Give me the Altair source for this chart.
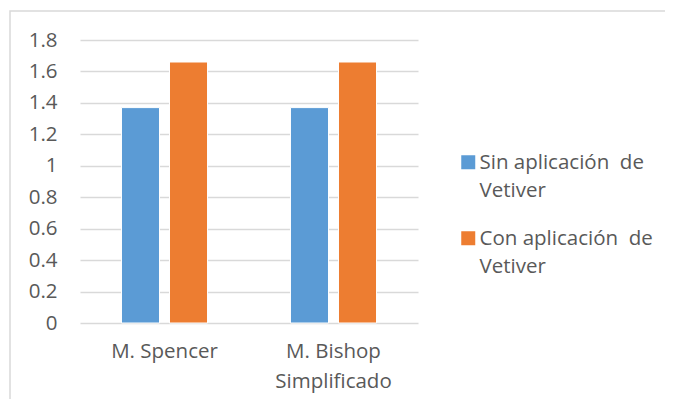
import altair as alt
import pandas as pd

categories = ["M. Spencer", "M. Bishop Simplificado"]
series = ["Sin aplicación\u00a0 de Vetiver", "Con aplicación\u00a0 de Vetiver"]
values_sin = [1.37, 1.37]
values_con = [1.66, 1.66]
y_ticks = [0, 0.2, 0.4, 0.6, 0.8, 1, 1.2, 1.4, 1.6, 1.8]
colors = ["#5b9bd5", "#ed7d31"]

rows = []
for i, c in enumerate(categories):
    rows.append({"cat": c, "serie": series[0], "value": values_sin[i]})
    rows.append({"cat": c, "serie": series[1], "value": values_con[i]})
df = pd.DataFrame(rows)

FONT = "Open Sans"
TXT = "#595959"
FS = 20.5

frame = alt.Chart(pd.DataFrame({"a": [0]})).mark_rect(
    fillOpacity=0, stroke="#d9d9d9", strokeWidth=1.5, clip=False
).encode(
    x=alt.value(-70), x2=alt.value(700), y=alt.value(-29), y2=alt.value(440)
)

bars = alt.Chart(df).mark_bar(stroke="white", strokeWidth=1).encode(
    x=alt.X(
        "cat:N", sort=categories,
        scale=alt.Scale(paddingInner=0, paddingOuter=0),
        axis=alt.Axis(
            title=None, labelAngle=0, domain=False, ticks=False,
            labelFont=FONT, labelFontSize=FS, labelColor=TXT,
            labelPadding=18, labelLineHeight=30, labelBaseline="top",
            labelExpr="datum.label == 'M. Bishop Simplificado' ? ['M. Bishop', 'Simplificado'] : datum.label",
        ),
    ),
    xOffset=alt.XOffset("serie:N", sort=series,
                        scale=alt.Scale(paddingInner=0.208, paddingOuter=0.864)),
    y=alt.Y(
        "value:Q", scale=alt.Scale(domain=[0, 1.8], nice=False),
        axis=alt.Axis(
            title=None, values=y_ticks, domain=False, ticks=False, format=".1~f",
            labelFont=FONT, labelFontSize=FS, labelColor=TXT, labelPadding=23,
            gridColor="#d9d9d9", gridWidth=1.5,
        ),
    ),
    color=alt.Color(
        "serie:N", sort=series,
        scale=alt.Scale(domain=series, range=colors),
        legend=alt.Legend(
            title=None, orient="none", legendX=378, legendY=119,
            symbolType="M-1,-2H1V0H-1Z", symbolSize=196, symbolStrokeWidth=0,
            labelFont=FONT, labelFontSize=FS, labelColor=TXT,
            labelBaseline="alphabetic", labelLimit=300,
            labelOffset=1, rowPadding=27, padding=0,
            labelExpr="[substring(datum.label, 0, lastindexof(datum.label, ' ')), substring(datum.label, lastindexof(datum.label, ' ') + 1)]",
        ),
    ),
)

chart = alt.layer(frame, bars).properties(
    width=338, height=283,
    autosize=alt.AutoSizeParams(type="none"),
    padding={"left": 72, "top": 32, "right": 247, "bottom": 76},
).configure(
    style={"guide-label": {"lineHeight": 28}},
    view=alt.ViewConfig(strokeWidth=0),
)

chart.save("out.html", embed_options={"renderer": "svg", "actions": False})
